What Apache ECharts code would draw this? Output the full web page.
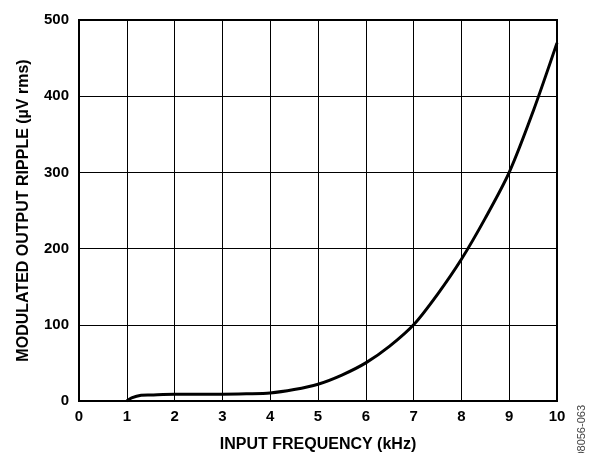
<!DOCTYPE html>
<html><head><meta charset="utf-8">
<script src="https://cdn.jsdelivr.net/npm/echarts@6/dist/echarts.min.js"></script>
<style>html,body{margin:0;padding:0;background:#fff}#c{width:594px;height:453px}</style>
</head><body><div id="c"></div>
<script>
const freqKHz = [1.0, 1.1, 1.3, 1.5, 2.0, 2.5, 3.0, 3.5, 4.0, 4.5, 5.0, 5.5, 6.0, 6.5, 7.0, 7.5, 8.0, 8.5, 9.0, 9.5, 10.0];
const rippleUV = [0, 4, 7.5, 8, 9, 9, 9, 9.5, 10.5, 15, 22, 34, 50, 72, 100, 140, 186, 240, 300, 380, 470];
const xTicks = [0,1,2,3,4,5,6,7,8,9,10];
const yTicks = [0,100,200,300,400,500];

const chart = echarts.init(document.getElementById('c'));
const font = 'Liberation Sans, Arial, sans-serif';
chart.setOption({
  animation: false,
  grid: {left: 79, right: 37, top: 20, bottom: 52, containLabel: false, outerBoundsMode: 'none'},
  xAxis: {
    type: 'value', min: 0, max: 10, interval: 1,
    name: 'INPUT FREQUENCY (kHz)', nameLocation: 'middle', nameGap: 36,
    nameTextStyle: {fontFamily: font, fontWeight: 'bold', fontSize: 16, color: '#000'},
    axisLine: {show: false},
    axisTick: {show: false},
    axisLabel: {fontFamily: font, fontWeight: 'bold', fontSize: 15, color: '#000', margin: 8},
    splitLine: {show: true, lineStyle: {color: '#000', width: 1}}
  },
  yAxis: {
    type: 'value', min: 0, max: 500, interval: 100,
    name: 'MODULATED OUTPUT RIPPLE (µV rms)', nameLocation: 'middle', nameGap: 47,
    nameTextStyle: {fontFamily: font, fontWeight: 'bold', fontSize: 16, color: '#000'},
    axisLine: {show: false},
    axisTick: {show: false},
    axisLabel: {fontFamily: font, fontWeight: 'bold', fontSize: 15, color: '#000', margin: 10},
    splitLine: {show: true, lineStyle: {color: '#000', width: 1}}
  },
  graphic: [
    {type: 'rect', shape: {x: 79, y: 20, width: 478, height: 381}, style: {fill: 'none', stroke: '#000', lineWidth: 2}, z: 10},
    {type: 'text', x: 582, y: 405, rotation: Math.PI/2, style: {text: '08056-063', font: '11px ' + font, fill: '#444', textAlign: 'right', textVerticalAlign: 'middle'}}
  ],
  series: [{
    type: 'line', smooth: 0.3, symbol: 'none',
    data: freqKHz.map((f, i) => [f, rippleUV[i]]),
    lineStyle: {color: '#000', width: 3}
  }]
});
</script></body></html>
